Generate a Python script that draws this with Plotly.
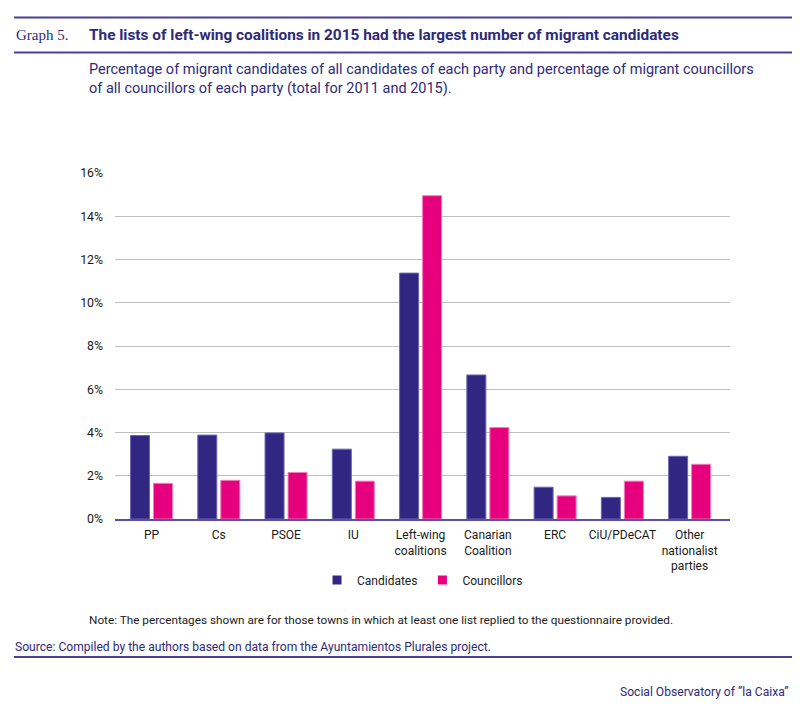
import plotly.graph_objects as go

# data
parties = [
    "PP",
    "Cs",
    "PSOE",
    "IU",
    "Left-wing<br>coalitions",
    "Canarian<br>Coalition",
    "ERC",
    "CiU/PDeCAT",
    "Other<br>nationalist<br>parties",
]
candidates = [3.86, 3.88, 3.98, 3.23, 11.37, 6.66, 1.47, 1.00, 2.90]
councillors = [1.65, 1.79, 2.15, 1.75, 14.95, 4.23, 1.07, 1.75, 2.53]

title = "The lists of left-wing coalitions in 2015 had the largest number of migrant candidates"
subtitle = (
    "Percentage of migrant candidates of all candidates of each party and percentage of migrant councillors"
    "<br>of all councillors of each party (total for 2011 and 2015)."
)
note = "Note: The percentages shown are for those towns in which at least one list replied to the questionnaire provided."
source = "Source: Compiled by the authors based on data from the Ayuntamientos Plurales project."
footer = "Social Observatory of \u201dla Caixa\u201d"

NAVY = "#312783"
MAGENTA = "#e6007e"
INK = "#2e2a78"
FONT = "Roboto"

# the page body has an 8px margin, so the figure is shrunk by that much
OFF = 8
W, H = 800 - OFF, 709 - OFF
L, R, T, B = 115, 730, 173, 519  # plot area in page pixels


def px(x):
    return (x - L) / (R - L)


def py(y):
    return (B - y) / (B - T)


fig = go.Figure()
fig.add_trace(
    go.Bar(
        x=parties,
        y=candidates,
        name="Candidates",
        showlegend=False,
        marker=dict(color=NAVY, line=dict(color="#6d64b3", width=1)),
    )
)
fig.add_trace(
    go.Bar(
        x=parties,
        y=councillors,
        name="Councillors",
        showlegend=False,
        marker=dict(color=MAGENTA, line=dict(color="#f27cbd", width=1)),
    )
)
# legend entries with small square swatches
for name, col in (("Candidates", NAVY), ("Councillors", MAGENTA)):
    fig.add_trace(
        go.Scatter(
            x=[None],
            y=[None],
            mode="markers",
            name=name,
            marker=dict(symbol="square", size=9, color=col),
        )
    )

fig.update_layout(
    width=W,
    height=H,
    margin=dict(l=L - OFF, r=800 - R, t=T - OFF, b=709 - B),
    paper_bgcolor="white",
    plot_bgcolor="white",
    font=dict(family=FONT, size=12, color="#1a1a1a"),
    barmode="group",
    bargap=0.316,
    bargroupgap=0.174,
    showlegend=True,
    legend=dict(
        orientation="h",
        x=0.5,
        xanchor="center",
        y=py(580),
        yanchor="middle",
        font=dict(size=12, color="#1a1a1a"),
        itemwidth=30,
    ),
    xaxis=dict(
        range=[-0.543, 8.60],
        showgrid=False,
        showline=True,
        linecolor="#5b4fa5",
        linewidth=1.5,
        ticks="",
        ticklabelstandoff=4,
        tickfont=dict(size=12),
    ),
    yaxis=dict(
        range=[0, 16],
        dtick=2,
        ticksuffix="%",
        showgrid=True,
        gridcolor="#bfbfbf",
        gridwidth=1,
        zeroline=False,
        ticks="",
        ticklabelstandoff=11,
        tickfont=dict(size=12.3),
    ),
)

# header / footer rules
for y in (17.5, 52.5, 657):
    fig.add_shape(
        type="line",
        xref="paper",
        yref="paper",
        x0=px(14),
        x1=px(795),
        y0=py(y),
        y1=py(y),
        line=dict(color="#4a3f99", width=2),
    )

texts = [
    dict(text="Graph 5.", x=14, y=35, size=15, family="Liberation Serif", color=INK, anchor="left"),
    dict(text="<b>" + title + "</b>", x=87, y=35, size=15.4, family=FONT, color=INK, anchor="left"),
    dict(text=subtitle, x=87, y=79.5, size=14.5, family=FONT, color=INK, anchor="left"),
    dict(text=note, x=87, y=620, size=11.75, family=FONT, color="#1a1a1a", anchor="left"),
    dict(text=source, x=13, y=647, size=12.1, family=FONT, color=INK, anchor="left"),
    dict(text=footer, x=791, y=692, size=12.1, family=FONT, color=INK, anchor="right"),
]
for t in texts:
    fig.add_annotation(
        text=t["text"],
        xref="paper",
        yref="paper",
        x=px(t["x"]),
        y=py(t["y"]),
        xanchor=t["anchor"],
        yanchor="middle",
        align=t["anchor"],
        showarrow=False,
        font=dict(family=t["family"], size=t["size"], color=t["color"]),
    )

fig.write_html("out.html")
